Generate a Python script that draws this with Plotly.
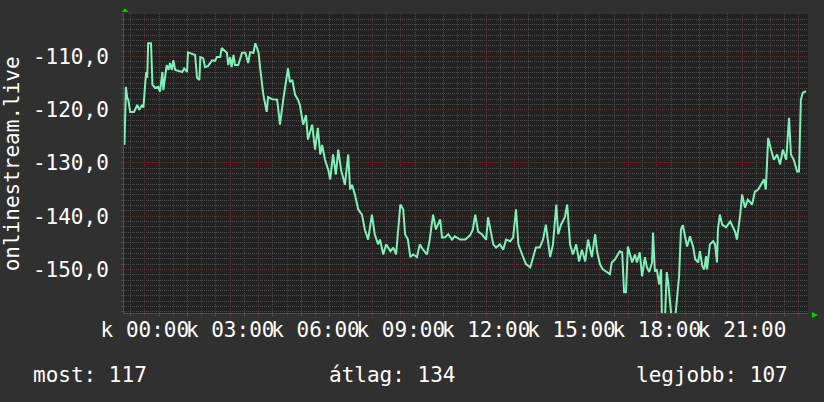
import plotly.graph_objects as go

# time in minutes relative to 00:00 (Tuesday, "k"), values in dB-like units
minutes = [-43, -40, -37, -35, -31, -23, -16, -12, -6, -3, 1, 3, 5, 7, 13, 16, 22, 28, 32, 37,
           39, 43, 46, 50, 53, 57, 60, 64, 70, 79, 83, 89, 91, 99, 106, 110, 115, 117, 123, 127,
           133, 142, 148, 152, 159, 162, 166, 173, 176, 180, 183, 187, 190, 197, 205, 212, 218, 222, 229, 233,
           236, 240, 243, 250, 257, 260, 268, 279, 281, 285, 292, 298, 302, 306, 311, 317, 323, 327, 334, 340,
           344, 353, 359, 365, 370, 374, 380, 387, 391, 397, 403, 408, 414, 422, 429, 433, 437, 443, 450, 458,
           464, 471, 479, 485, 492, 496, 503, 509, 518, 524, 530, 539, 545, 549, 555, 560, 566, 574, 580, 587,
           595, 601, 608, 614, 623, 627, 633, 640, 648, 654, 665, 676, 686, 692, 697, 703, 711, 720, 724, 729,
           735, 741, 749, 756, 762, 771, 777, 783, 788, 796, 804, 813, 819, 825, 833, 840, 846, 851, 855, 861,
           868, 872, 878, 886, 891, 897, 903, 910, 916, 922, 929, 935, 943, 950, 954, 960, 966, 973, 981, 985,
           992, 1002, 1007, 1011, 1015, 1019, 1028, 1034, 1038, 1044, 1049, 1055, 1059, 1064, 1070, 1072, 1076, 1080, 1085, 1089,
           1091, 1097, 1101, 1104, 1108, 1112, 1118, 1123, 1127, 1131, 1135, 1140, 1144, 1150, 1157, 1161, 1167, 1171, 1176, 1180,
           1184, 1186, 1192, 1199, 1203, 1207, 1209, 1213, 1218, 1226, 1235, 1245, 1249, 1256, 1260, 1266, 1272, 1281, 1287, 1294,
           1300, 1306, 1310, 1315, 1321, 1327, 1334, 1340, 1346, 1353, 1359, 1363, 1369, 1376, 1380, 1384, 1388, 1395]

values = [-126.6, -115.7, -117.8, -118.1, -120.4, -120.4, -119.1, -120.0, -119.1, -119.6, -114.8, -112.9, -114.0, -107.5, -107.5, -115.3, -115.9, -115.7, -116.6, -112.9,
          -116.3, -113.5, -111.6, -112.5, -111.2, -112.5, -110.7, -112.5, -112.7, -112.9, -112.2, -112.9, -109.2, -109.5, -109.7, -114.0, -114.4, -110.1, -110.3, -112.0,
          -111.8, -110.7, -110.8, -110.1, -110.1, -108.4, -108.8, -109.3, -111.6, -110.1, -112.0, -109.7, -111.6, -111.6, -109.3, -109.3, -111.2, -109.2, -109.3, -107.5,
          -108.2, -109.3, -112.0, -117.2, -120.4, -117.6, -118.0, -118.1, -119.5, -122.8, -118.1, -114.4, -112.2, -114.8, -114.4, -117.2, -118.1, -119.1, -122.8, -121.0,
          -125.6, -122.8, -127.5, -123.4, -128.4, -126.6, -129.4, -131.3, -133.1, -128.4, -132.2, -127.5, -131.3, -134.1, -128.4, -135.0, -134.1, -135.9, -138.7, -139.7,
          -142.5, -144.4, -139.7, -143.4, -145.3, -144.4, -147.2, -145.3, -146.6, -145.9, -147.2, -137.8, -138.7, -143.4, -144.4, -147.7, -147.2, -147.7, -145.3, -146.3,
          -147.2, -144.4, -139.7, -142.5, -140.6, -144.0, -144.0, -143.4, -144.4, -143.8, -144.4, -144.4, -143.6, -142.5, -139.7, -142.9, -143.4, -144.4, -140.2, -142.5,
          -145.3, -145.9, -145.3, -146.3, -144.4, -144.7, -144.0, -138.7, -145.3, -147.2, -149.0, -149.6, -147.7, -145.9, -145.9, -144.4, -141.6, -145.3, -147.7, -145.3,
          -137.8, -143.4, -141.6, -140.2, -137.8, -145.3, -147.2, -145.3, -148.5, -146.3, -148.5, -144.4, -147.7, -143.4, -146.6, -149.0, -150.0, -150.4, -150.9, -148.7,
          -148.1, -146.6, -146.8, -154.3, -154.3, -145.7, -148.7, -147.2, -148.7, -146.8, -151.3, -147.7, -149.6, -150.5, -148.7, -143.1, -150.4, -150.0, -152.8, -150.0,
          -160.0, -160.0, -150.5, -152.4, -155.6, -160.0, -160.0, -155.2, -151.3, -142.5, -141.7, -144.0, -145.7, -143.8, -145.9, -148.1, -148.7, -146.6, -149.4, -150.0,
          -147.5, -150.0, -145.3, -144.7, -145.3, -148.7, -142.5, -139.7, -141.6, -142.1, -141.0, -142.9, -144.4, -139.7, -135.9, -138.4, -136.9, -137.8, -135.4, -135.0,
          -134.1, -133.1, -135.0, -125.3, -127.5, -129.4, -128.4, -130.3, -127.5, -129.4, -121.5, -128.4, -129.4, -131.6, -131.6, -118.1, -116.8, -116.5]

x_tick_hours = list(range(0, 24))
x_tick_labels = ["k 00:00", "k 03:00", "k 06:00", "k 09:00", "k 12:00", "k 15:00", "k 18:00", "k 21:00"]
y_tick_vals = [-150, -140, -130, -120, -110]
y_tick_labels = ["-150,0", "-140,0", "-130,0", "-120,0", "-110,0"]
y_title = "onlinestream.live"
summary_labels = ["most", "átlag", "legjobb"]
summary_values = [117, 134, 107]

BG = "#303030"
PLOT_BG = "#222222"
MINOR = "#4a4a4a"
MAJOR = "#5e2e2e"
TEXT = "#ffffff"
FONT = "DejaVu Sans Mono"
LINE = "#80f0b8"

x_tickvals = [h * 60 for h in x_tick_hours]
label_map = {i * 3: lab for i, lab in enumerate(x_tick_labels)}
x_ticktext = [label_map.get(h, "") for h in x_tick_hours]

fig = go.Figure()
fig.add_trace(go.Scatter(x=minutes, y=values, mode="lines",
                         line=dict(color=LINE, width=2), hoverinfo="skip"))

fig.update_layout(
    width=824, height=402,
    margin=dict(l=124, r=16, t=14, b=89, autoexpand=False),
    paper_bgcolor=BG, plot_bgcolor=PLOT_BG,
    showlegend=False,
    font=dict(family=FONT, size=21, color=TEXT),
)
fig.update_xaxes(
    automargin=False,
    range=[-44, 1399], tickmode="array", tickvals=x_tickvals, ticktext=x_ticktext,
    tickangle=0, showgrid=True, gridcolor=MAJOR, griddash="1px,1px", gridwidth=1,
    ticks="outside", ticklen=4, tickcolor=MAJOR, zeroline=False,
    showline=True, linecolor="#505050",
    tickfont=dict(family=FONT, size=21, color=TEXT),
    ticklabelstandoff=-6,
    minor=dict(dtick=30, tick0=0, showgrid=True, gridcolor=MINOR, griddash="1px,1px",
               ticks="outside", ticklen=3, tickcolor=MINOR),
)
fig.update_yaxes(
    automargin=False,
    range=[-158.2, -102], tickmode="array", tickvals=y_tick_vals, ticktext=y_tick_labels,
    showgrid=True, gridcolor=MAJOR, griddash="1px,1px", gridwidth=1,
    ticks="outside", ticklen=4, tickcolor=MAJOR, zeroline=False,
    showline=True, linecolor="#505050",
    tickfont=dict(family=FONT, size=21, color=TEXT),
    ticklabelstandoff=6,
    minor=dict(dtick=1, tick0=0, showgrid=True, gridcolor=MINOR, griddash="1px,1px",
               ticks="outside", ticklen=2, tickcolor=MINOR),
)

# y-axis title
fig.add_annotation(text=y_title, textangle=-90, xref="paper", yref="paper",
                   x=-0.164, y=0.5, xanchor="center", yanchor="middle", showarrow=False,
                   font=dict(family=FONT, size=21, color=TEXT))

# summary legend line
anchors = [("left", -0.136), ("center", 0.3925), ("right", 0.974)]
for (lab, val), (anc, xp) in zip(zip(summary_labels, summary_values), anchors):
    fig.add_annotation(text=f"{lab}: {val}", xref="paper", yref="paper", x=xp, y=-0.207,
                       xanchor=anc, yanchor="middle", showarrow=False,
                       font=dict(family=FONT, size=21, color=TEXT))

# green axis arrows
fig.add_shape(type="path", xref="paper", yref="paper",
              path="M -0.0029 1.0067 L 0.0059 1.0067 L 0.0015 1.0201 Z",
              fillcolor="#00cc00", line=dict(width=0))
fig.add_shape(type="path", xref="paper", yref="paper",
              path="M 1.0058 0.0033 L 1.0058 -0.0167 L 1.0146 -0.0067 Z",
              fillcolor="#00cc00", line=dict(width=0))

fig.write_html("out.html", config={"displayModeBar": False},
               post_script="document.body.style.margin='0';document.body.style.background='#303030';")
